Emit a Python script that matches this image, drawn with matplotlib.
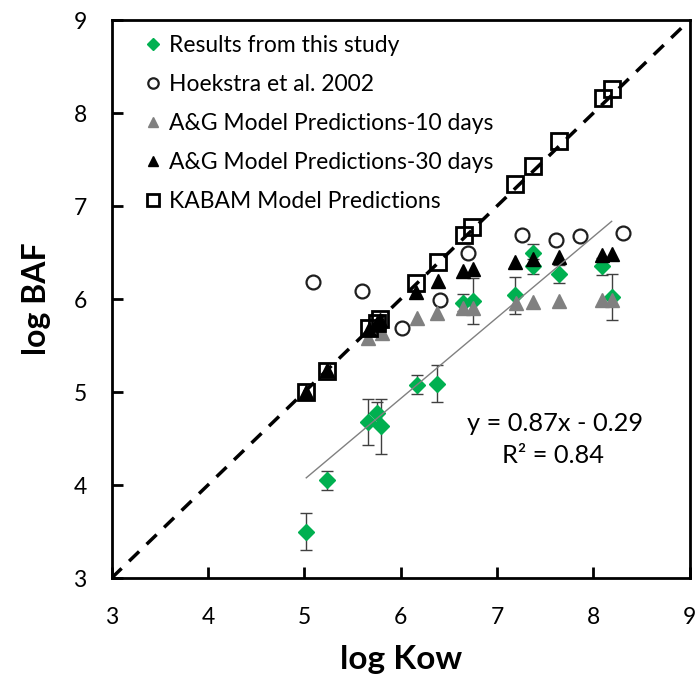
import numpy as np
import matplotlib
matplotlib.use("Agg")
import matplotlib.pyplot as plt

# -------------------------------
# Data
# -------------------------------

# Results from this study
study_kow = [5.02, 5.24, 5.66, 5.75, 5.80, 6.17, 6.38, 6.65, 6.75, 7.19, 7.37, 7.37, 7.64, 8.09, 8.19]
study_baf = [3.50, 4.05, 4.68, 4.77, 4.63, 5.08, 5.09, 5.96, 5.98, 6.04, 6.49, 6.35, 6.27, 6.35, 6.02]
study_err = [0.20, 0.10, 0.25, 0.12, 0.30, 0.10, 0.20, 0.09, 0.25, 0.20, 0.10, 0.08, 0.10, 0.09, 0.25]

# Hoekstra et al. 2002
hoek_kow = [5.09, 5.60, 6.01, 6.41, 6.70, 7.26, 7.61, 7.86, 8.31]
hoek_baf = [6.18, 6.09, 5.69, 5.99, 6.49, 6.69, 6.63, 6.68, 6.71]

# A&G model, 10 days
ag10_kow = [5.02, 5.24, 5.66, 5.81, 6.17, 6.38, 6.65, 6.75, 7.20, 7.37, 7.64, 8.09, 8.19]
ag10_baf = [5.00, 5.22, 5.58, 5.63, 5.80, 5.85, 5.90, 5.90, 5.96, 5.97, 5.98, 5.99, 5.99]

# A&G model, 30 days
ag30_kow = [5.02, 5.24, 5.67, 5.75, 5.79, 6.16, 6.39, 6.65, 6.75, 7.19, 7.37, 7.64, 8.09, 8.19]
ag30_baf = [5.00, 5.24, 5.68, 5.74, 5.77, 6.08, 6.19, 6.30, 6.32, 6.40, 6.43, 6.45, 6.47, 6.48]

# KABAM model
kabam_kow = [5.02, 5.24, 5.67, 5.75, 5.79, 6.16, 6.39, 6.66, 6.74, 7.19, 7.37, 7.64, 8.10, 8.19]
kabam_baf = [5.00, 5.23, 5.69, 5.74, 5.78, 6.17, 6.40, 6.69, 6.77, 7.24, 7.43, 7.70, 8.16, 8.26]

# trendline of this study
slope = 0.87
intercept = -0.29
r_squared = 0.84

ticks = [3, 4, 5, 6, 7, 8, 9]

GREEN = "#00B050"
FONT = "Lato"


def make_plot():
    fig = plt.figure(figsize=(6.99, 6.74), dpi=100)
    ax = fig.add_axes([0.1597, 0.1424, 0.8270, 0.8279])

    # 1:1 line
    ax.plot([3, 9], [3, 9], color="black", lw=2.5, ls=(0, (4, 3)), zorder=6)

    # this study with error bars
    ax.errorbar(study_kow, study_baf, yerr=study_err, fmt="none",
                ecolor="#404040", elinewidth=1, capsize=4, capthick=1, zorder=1)
    ax.plot(study_kow, study_baf, "D", ms=8, color=GREEN, zorder=2,
            label="Results from this study")

    ax.plot(hoek_kow, hoek_baf, "o", ms=10, mfc="none", mec="#1f1f1f",
            mew=1.6, zorder=3, label="Hoekstra et al. 2002")
    ax.plot(ag10_kow, ag10_baf, "^", ms=10, color="#808080", zorder=3,
            label="A&G Model Predictions-10 days")
    ax.plot(ag30_kow, ag30_baf, "^", ms=10, color="black", zorder=4,
            label="A&G Model Predictions-30 days")
    ax.plot(kabam_kow, kabam_baf, "s", ms=11, mfc="none", mec="black",
            mew=2, zorder=5, label="KABAM Model Predictions")

    # linear trendline
    xs = np.array([min(study_kow), max(study_kow)])
    ax.plot(xs, slope * xs + intercept, color="#808080", lw=1, zorder=7)

    ax.text(0.767, 0.277, f"y = {slope}x - {abs(intercept)}", transform=ax.transAxes,
            ha="center", va="center", fontsize=18.3, family=FONT)
    ax.text(0.763, 0.219, f"R² = {r_squared}", transform=ax.transAxes,
            ha="center", va="center", fontsize=18.3, family=FONT)

    ax.set_xlim(3, 9)
    ax.set_ylim(3, 9)
    ax.set_xticks(ticks)
    ax.set_yticks(ticks)
    ax.tick_params(direction="in", length=8, width=2, labelsize=16.5,
                   top=False, right=False)
    ax.tick_params(axis="x", pad=21)
    ax.tick_params(axis="y", pad=18)
    for lab in ax.get_xticklabels() + ax.get_yticklabels():
        lab.set_family(FONT)
    for sp in ax.spines.values():
        sp.set_linewidth(2)

    ax.set_xlabel("log Kow", fontsize=24, fontweight="bold", family=FONT, labelpad=12)
    ax.set_ylabel("log BAF", fontsize=23, fontweight="bold", family=FONT, labelpad=16)

    ax.legend(loc="upper left", bbox_to_anchor=(0.042, 0.99), frameon=False,
              prop={"family": FONT, "size": 16.5}, handlelength=0.7,
              handletextpad=0.35, labelspacing=0.79, markerscale=0.75,
              borderaxespad=0)

    fig.savefig("out.png", dpi=100)


if __name__ == "__main__":
    make_plot()
